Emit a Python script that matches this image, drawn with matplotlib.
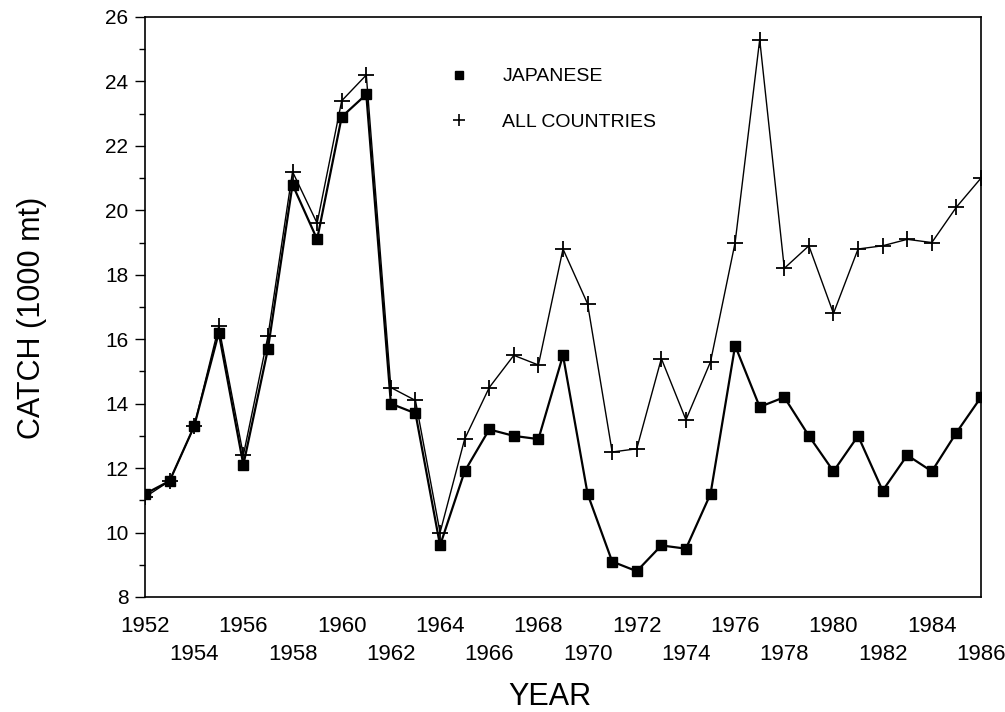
import matplotlib
matplotlib.use("Agg")
import matplotlib.pyplot as plt
from matplotlib.lines import Line2D

years = list(range(1952, 1987))
japanese = [11.2, 11.6, 13.3, 16.2, 12.1, 15.7, 20.8, 19.1, 22.9, 23.6,
            14.0, 13.7, 9.6, 11.9, 13.2, 13.0, 12.9, 15.5, 11.2, 9.1,
            8.8, 9.6, 9.5, 11.2, 15.8, 13.9, 14.2, 13.0, 11.9, 13.0,
            11.3, 12.4, 11.9, 13.1, 14.2]
all_countries = [11.1, 11.6, 13.3, 16.4, 12.4, 16.1, 21.2, 19.6, 23.4, 24.2,
                 14.5, 14.1, 10.0, 12.9, 14.5, 15.5, 15.2, 18.8, 17.1, 12.5,
                 12.6, 15.4, 13.5, 15.3, 19.0, 25.3, 18.2, 18.9, 16.8, 18.8,
                 18.9, 19.1, 19.0, 20.1, 21.0]
row1_ticks = [1952, 1956, 1960, 1964, 1968, 1972, 1976, 1980, 1984]
row2_ticks = [1954, 1958, 1962, 1966, 1970, 1974, 1978, 1982, 1986]
y_ticks = [8, 10, 12, 14, 16, 18, 20, 22, 24, 26]

plt.rcParams['font.family'] = ['Liberation Sans', 'DejaVu Sans']

W, H = 1005, 712
fig = plt.figure(figsize=(W/100, H/100), dpi=100)
ax = fig.add_axes([145/W, 1 - 597/H, (981-145)/W, (597-17)/H])

ax.plot(years, all_countries, color='black', lw=1.0, marker='+', ms=11, mew=1.3,
        label='ALL COUNTRIES', zorder=2)
ax.plot(years, japanese, color='black', lw=1.6, marker='s', ms=7,
        label='JAPANESE', zorder=3)

ax.set_xlim(1952, 1986)
ax.set_ylim(8, 26)
ax.set_yticks(y_ticks)
ax.set_yticks(range(9, 26, 2), minor=True)
ax.tick_params(axis='y', which='major', direction='out', length=7, width=1, labelsize=15, pad=5)
ax.tick_params(axis='y', which='minor', direction='out', length=4, width=1)

ax.set_xticks(row1_ticks)
ax.set_xticklabels([str(t) for t in row1_ticks])
ax.set_xticks(row2_ticks, minor=True)
ax.set_xticklabels([str(t) for t in row2_ticks], minor=True)
ax.tick_params(axis='x', which='major', length=0, labelsize=16, pad=14)
ax.tick_params(axis='x', which='minor', length=0, labelsize=16, pad=34)

for s in ax.spines.values():
    s.set_linewidth(1.2)

fig.text(550/W, 1 - 697/H, 'YEAR', fontsize=22, ha='center', va='center')
fig.text(32/W, 1 - 318/H, 'CATCH (1000 mt)', fontsize=22, rotation=90,
         ha='center', va='center')

handles = [Line2D([], [], color='black', ls='none', marker='s', ms=6),
           Line2D([], [], color='black', ls='none', marker='+', ms=9, mew=1.2)]
ax.legend(handles, ['JAPANESE', 'ALL COUNTRIES'], frameon=False, fontsize=14,
          loc='upper left', bbox_to_anchor=(440/W, 1 - 58/H),
          bbox_transform=fig.transFigure, handlelength=1.0,
          handletextpad=1.7, labelspacing=1.45, borderpad=0)

fig.savefig('out.png', dpi=100)
